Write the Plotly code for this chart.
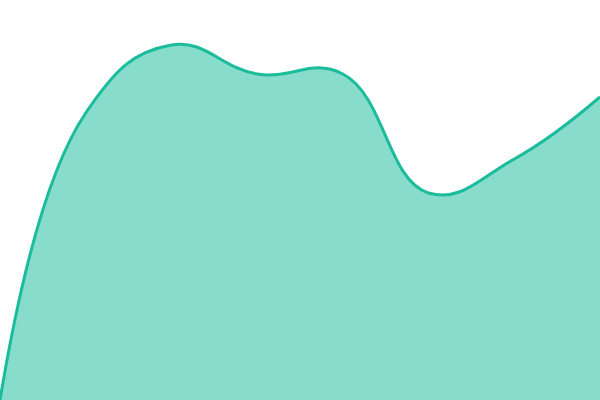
import plotly.graph_objects as go

x_index = [0, 1, 2, 3, 4, 5, 6, 7]
values = [0, 287, 355, 326, 326, 207, 241, 303]

fig = go.Figure(go.Scatter(
    x=x_index, y=values, mode="lines",
    line=dict(color="#1abc9c", width=3, shape="spline", smoothing=1.25),
    fill="tozeroy", fillcolor="rgba(26,188,156,0.52)",
    hoverinfo="skip",
))
fig.update_layout(
    width=600, height=400,
    margin=dict(l=0, r=0, t=0, b=0),
    paper_bgcolor="white", plot_bgcolor="white",
    showlegend=False,
    xaxis=dict(visible=False, range=[0, 7]),
    yaxis=dict(visible=False, range=[0, 400]),
)
fig.write_html("out.html", post_script="document.body.style.margin='0';",
               config={"displayModeBar": False})
